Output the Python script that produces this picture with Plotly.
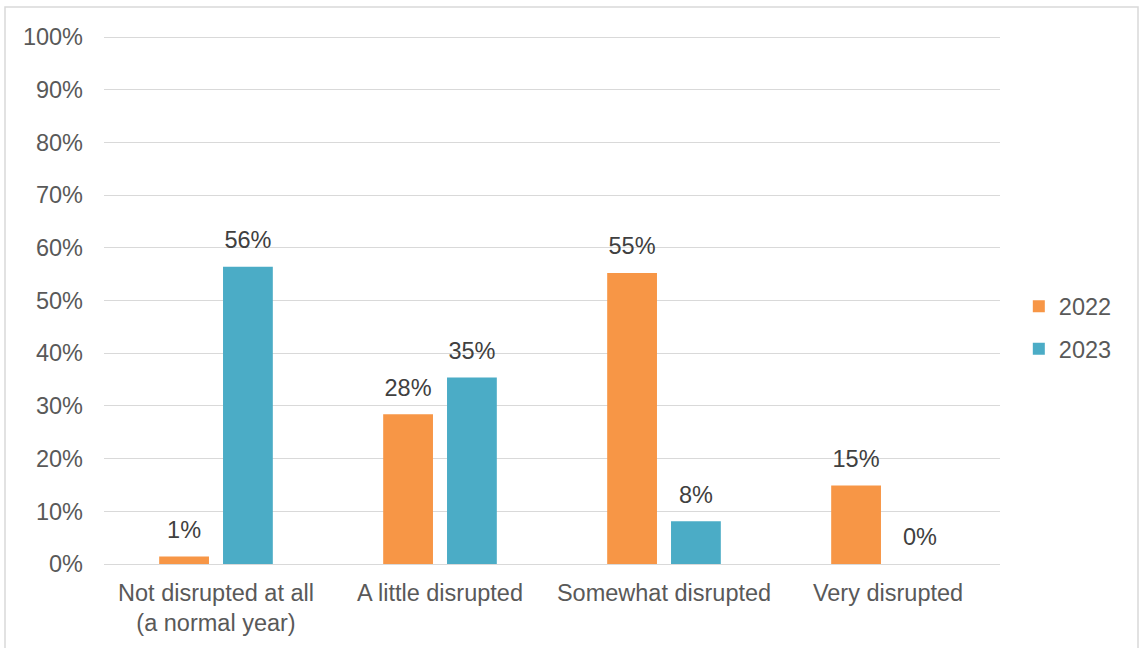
import plotly.graph_objects as go

# Survey: how disrupted was the school year
categories = ["Not disrupted at all<br>(a normal year)", "A little disrupted",
              "Somewhat disrupted", "Very disrupted"]
years = ["2022", "2023"]
values_2022 = [0.014, 0.284, 0.552, 0.149]
values_2023 = [0.564, 0.354, 0.081, 0.0]
colors = {"2022": "#F79646", "2023": "#4BACC6"}

FONT = "Liberation Sans, Arial, sans-serif"
FS = 23.5
W, H = 1139, 648
ML, MR, MT, MB = 104, 139, 31, 84
BARGAP = 0.43

pw = W - ML - MR
ph = H - MT - MB
# leave a little headroom above 100% so its gridline is drawn
y_top = ph / 527

fig = go.Figure()

series = {"2022": values_2022, "2023": values_2023}
for yr in years:
    fig.add_trace(go.Bar(
        x=categories, y=series[yr], name=yr,
        marker=dict(color=colors[yr], line=dict(width=0)),
        offsetgroup=yr, legendgroup=yr,
        hoverinfo="skip",
    ))

# value labels, grouped the same way as the bars
for yr in years:
    fig.add_trace(go.Scatter(
        x=categories, y=series[yr], mode="markers+text",
        text=[f"{v:.0%}" for v in series[yr]],
        textposition="top center",
        textfont=dict(family=FONT, size=FS, color="#404040"),
        marker=dict(size=19, opacity=0),
        offsetgroup=yr, showlegend=False, hoverinfo="skip",
        cliponaxis=False,
    ))

fig.add_shape(
    type="rect", xref="paper", yref="paper",
    x0=(5 - ML) / pw, x1=(1138 - ML) / pw,
    y0=-0.3, y1=(H - MB - 7) / ph,
    line=dict(color="#D9D9D9", width=1.5), fillcolor="rgba(0,0,0,0)",
    layer="below",
)

fig.update_layout(
    width=W, height=H,
    margin=dict(l=ML, r=MR, t=MT, b=MB),
    paper_bgcolor="white", plot_bgcolor="white",
    barmode="group", bargap=BARGAP, bargroupgap=0.22,
    scattermode="group", scattergap=BARGAP,
    font=dict(family=FONT, size=FS, color="#595959"),
    legend=dict(
        x=1.021, xanchor="left", y=(H - MB - 328) / ph, yanchor="middle",
        font=dict(family=FONT, size=FS, color="#595959"),
        traceorder="grouped", tracegroupgap=9,
        itemwidth=30, bgcolor="rgba(0,0,0,0)",
    ),
    xaxis=dict(
        showgrid=False, showline=False, zeroline=False,
        tickfont=dict(family=FONT, size=FS, color="#595959"),
        ticklabelstandoff=12,
    ),
    yaxis=dict(
        range=[0, y_top], tickvals=[i / 10 for i in range(11)], tickformat=".0%",
        showgrid=True, gridcolor="#D9D9D9", gridwidth=1.3,
        zeroline=True, zerolinecolor="#D9D9D9", zerolinewidth=1.3,
        showline=False,
        tickfont=dict(family=FONT, size=FS, color="#595959"),
        ticklabelstandoff=20,
    ),
)

fig.write_html("out.html")
